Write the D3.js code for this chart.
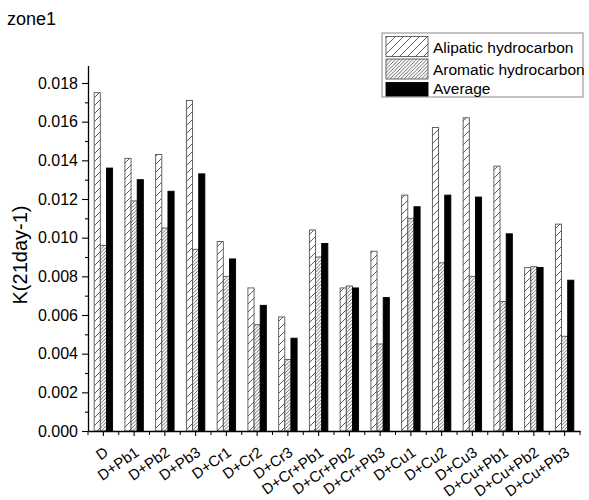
<html lang="en">
<head>
<meta charset="UTF-8" />
<title>zone1</title>
<style>
  body { margin: 0; background: #fff; }
  text { font-family: "Liberation Sans", Arial, sans-serif; }
</style>
</head>
<body>
<script src="https://cdn.jsdelivr.net/npm/d3@7"></script>
<script>
// data
let cats = ["D", "D+Pb1", "D+Pb2", "D+Pb3", "D+Cr1", "D+Cr2", "D+Cr3", "D+Cr+Pb1",
            "D+Cr+Pb2", "D+Cr+Pb3", "D+Cu1", "D+Cu2", "D+Cu3", "D+Cu+Pb1", "D+Cu+Pb2", "D+Cu+Pb3"];
let alipatic = [0.0175, 0.0141, 0.0143, 0.0171, 0.0098, 0.0074, 0.0059, 0.0104,
                0.0074, 0.0093, 0.0122, 0.0157, 0.0162, 0.0137, 0.00845, 0.0107];
let aromatic = [0.0096, 0.0119, 0.0105, 0.0094, 0.0080, 0.0055, 0.0037, 0.0090,
                0.0075, 0.0045, 0.0110, 0.0087, 0.0080, 0.0067, 0.0085, 0.0049];
let average  = [0.0136, 0.0130, 0.0124, 0.0133, 0.0089, 0.0065, 0.0048, 0.0097,
                0.0074, 0.0069, 0.0116, 0.0122, 0.0121, 0.0102, 0.00846, 0.0078];
let seriesNames = ["Alipatic hydrocarbon", "Aromatic hydrocarbon", "Average"];
let yTicks = [0, 0.002, 0.004, 0.006, 0.008, 0.010, 0.012, 0.014, 0.016, 0.018];
let yMinor = [0.001, 0.003, 0.005, 0.007, 0.009, 0.011, 0.013, 0.015, 0.017];

let width = 589, height = 500;
let svg = d3.select("body").append("svg")
    .attr("width", width)
    .attr("height", height);

let defs = svg.append("defs");
function hatch(id, size, color) {
  let p = defs.append("pattern")
      .attr("id", id)
      .attr("patternUnits", "userSpaceOnUse")
      .attr("width", size)
      .attr("height", size);
  p.append("rect").attr("width", size).attr("height", size).attr("fill", "#fff");
  p.append("path")
      .attr("d", `M0,${size} L${size},0 M${-size / 2},${size / 2} L${size / 2},${-size / 2} M${size / 2},${size * 1.5} L${size * 1.5},${size / 2}`)
      .attr("stroke", color)
      .attr("stroke-width", 0.8);
}
hatch("hAli", 8, "#333");
hatch("hAro", 3.5, "#444");
let fills = ["url(#hAli)", "url(#hAro)", "#000"];
let strokes = ["#555", "#555", "#000"];

let x = d3.scaleBand().domain(cats).range([88, 580]).paddingInner(0.4).paddingOuter(0.2);
let xs = d3.scaleBand().domain([0, 1, 2]).range([0, x.bandwidth()]);
let y = d3.scaleLinear().domain([0, 0.0189]).range([431, 431 - 0.0189 * (431 - 83) / 0.018]);

// bars
let series = [alipatic, aromatic, average];
let g = svg.append("g");
series.forEach((vals, s) => {
  g.selectAll(".s" + s)
    .data(vals)
    .enter().append("rect")
    .attr("x", (d, i) => x(cats[i]) + xs(s))
    .attr("y", d => y(d))
    .attr("width", xs.bandwidth())
    .attr("height", d => y(0) - y(d))
    .attr("fill", fills[s])
    .attr("stroke", strokes[s])
    .attr("stroke-width", 0.9);
});

// y axis
let yAxis = svg.append("g").attr("transform", "translate(88,0)")
    .call(d3.axisLeft(y).tickValues(yTicks).tickFormat(d3.format(".3f")).tickSize(6).tickSizeOuter(0));
svg.append("g").attr("transform", "translate(88,0)")
    .call(d3.axisLeft(y).tickValues(yMinor).tickFormat("").tickSize(3).tickSizeOuter(0))
    .select(".domain").remove();
yAxis.selectAll("text").attr("font-size", 16).attr("fill", "#000").attr("x", -10);

// x axis
let xAxis = svg.append("g").attr("transform", "translate(0,431)")
    .call(d3.axisBottom(x).tickSize(5).tickSizeOuter(0).tickFormat(""));
let bounds = [x(cats[0]) + x.bandwidth() / 2 - x.step() / 2]
    .concat(cats.map(c => x(c) + x.bandwidth() / 2 + x.step() / 2));
xAxis.selectAll(".minor").data(bounds).enter().append("line")
    .attr("x1", d => d).attr("x2", d => d)
    .attr("y1", 0).attr("y2", 4)
    .attr("stroke", "#000");
svg.selectAll(".domain").attr("stroke-width", 1.3);
svg.selectAll(".tick line").attr("stroke-width", 1.1);

svg.append("g").selectAll("text")
    .data(cats)
    .enter().append("text")
    .attr("transform", c => `translate(${x(c) + x.bandwidth() / 2},446) rotate(-35)`)
    .attr("text-anchor", "end")
    .attr("dy", "0.7em")
    .attr("font-size", 15)
    .text(c => c);

// titles
svg.append("text").attr("x", 7).attr("y", 25).attr("font-size", 18).text("zone1");
svg.append("text")
    .attr("transform", "translate(27,255) rotate(-90)")
    .attr("text-anchor", "middle")
    .attr("font-size", 20)
    .text("K(21day-1)");

// legend
let legTops = [36.5, 59, 82.5];
let legBase = [53, 74.5, 94];
let leg = svg.append("g");
leg.append("rect")
    .attr("x", 382).attr("y", 33).attr("width", 201).attr("height", 64)
    .attr("fill", "#fff").attr("stroke", "#888").attr("stroke-width", 1);
seriesNames.forEach((name, i) => {
  leg.append("rect")
      .attr("x", 386).attr("y", legTops[i])
      .attr("width", 42).attr("height", i === 2 ? 96 - legTops[i] : 20)
      .attr("fill", fills[i]).attr("stroke", strokes[i]).attr("stroke-width", 0.9);
  leg.append("text")
      .attr("x", 433).attr("y", legBase[i])
      .attr("font-size", 15.5)
      .text(name);
});
</script>
</body>
</html>
